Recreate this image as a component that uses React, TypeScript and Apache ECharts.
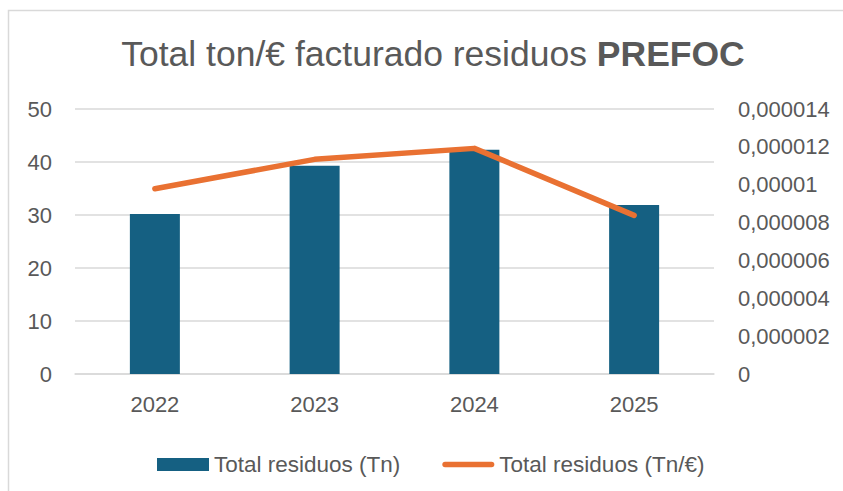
import React, { useEffect, useRef } from "react";
import * as echarts from "echarts";

const categories = ["2022", "2023", "2024", "2025"];
const totalTn = [30.2, 39.3, 42.3, 31.9];
const totalTnPerEuro = [0.00000979, 0.00001134, 0.00001192, 0.00000838];
const leftTickLabels = ["0", "10", "20", "30", "40", "50"];
const rightTickLabels = [
  "0",
  "0,000002",
  "0,000004",
  "0,000006",
  "0,000008",
  "0,00001",
  "0,000012",
  "0,000014",
];

const FONT = "'Liberation Sans', Arial, sans-serif";
const TEXT = "#595959";
const GRID = "#d9d9d9";
const BAR = "#156082";
const LINE = "#e97132";

export default function App() {
  const ref = useRef<HTMLDivElement>(null);
  useEffect(() => {
    if (!ref.current) return;
    const chart = echarts.init(ref.current, null, { renderer: "svg" });
    chart.setOption({
      animation: false,
      backgroundColor: "#ffffff",
      textStyle: { fontFamily: FONT },
      graphic: [
        {
          type: "rect",
          shape: { x: 8.5, y: 10.5, width: 900, height: 600 },
          style: { fill: "none", stroke: GRID, lineWidth: 1.5 },
          silent: true,
          z: -10,
        },
      ],
      title: {
        text: "Total ton/€ facturado residuos {b|PREFOC}",
        left: 428,
        top: 31,
        textAlign: "center",
        textStyle: {
          fontFamily: FONT,
          fontSize: 35.5,
          fontWeight: "normal",
          color: TEXT,
          rich: {
            b: { fontFamily: FONT, fontSize: 35.5, fontWeight: "bold", color: TEXT },
          },
        },
      },
      legend: {
        left: 152,
        top: 448,
        itemWidth: 52,
        itemHeight: 13,
        itemGap: 42,
        textStyle: { fontFamily: FONT, fontSize: 22.5, color: TEXT },
        data: [
          { name: "Total residuos (Tn)", icon: "rect" },
          {
            name: "Total residuos (Tn/€)",
            icon: "path://M2.75,0 L49.25,0 A2.75,2.75 0 0 1 49.25,5.5 L2.75,5.5 A2.75,2.75 0 0 1 2.75,0 Z",
            itemStyle: { color: LINE },
          },
        ],
      },
      grid: { left: 75, right: 129, top: 109, bottom: 117, containLabel: false },
      xAxis: {
        type: "category",
        data: categories,
        axisLine: { lineStyle: { color: GRID, width: 1.5 } },
        axisTick: { show: false },
        axisLabel: { color: TEXT, fontSize: 22, fontFamily: FONT, margin: 19 },
      },
      yAxis: [
        {
          type: "value",
          min: 0,
          max: 50,
          interval: 10,
          axisLine: { show: false },
          axisTick: { show: false },
          splitLine: { lineStyle: { color: GRID, width: 1.5 } },
          axisLabel: {
            color: TEXT,
            fontSize: 22,
            fontFamily: FONT,
            margin: 23,
            formatter: (_v: number, i: number) => leftTickLabels[i] ?? String(_v),
          },
        },
        {
          type: "value",
          min: 0,
          max: 0.000014,
          interval: 0.000002,
          position: "right",
          axisLine: { show: false },
          axisTick: { show: false },
          splitLine: { show: false },
          axisLabel: {
            color: TEXT,
            fontSize: 22,
            fontFamily: FONT,
            margin: 24,
            formatter: (_v: number, i: number) => rightTickLabels[i] ?? String(_v),
          },
        },
      ],
      series: [
        {
          name: "Total residuos (Tn)",
          type: "bar",
          data: totalTn,
          barWidth: 50,
          yAxisIndex: 0,
          itemStyle: { color: BAR },
        },
        {
          name: "Total residuos (Tn/€)",
          type: "line",
          data: totalTnPerEuro,
          yAxisIndex: 1,
          symbol: "none",
          lineStyle: { color: LINE, width: 5.5, cap: "round", join: "round" },
          itemStyle: { color: LINE },
        },
      ],
    });
    return () => chart.dispose();
  }, []);
  return (
    <div
      ref={ref}
      style={{ position: "fixed", left: 0, top: 0, width: 843, height: 491 }}
    />
  );
}
